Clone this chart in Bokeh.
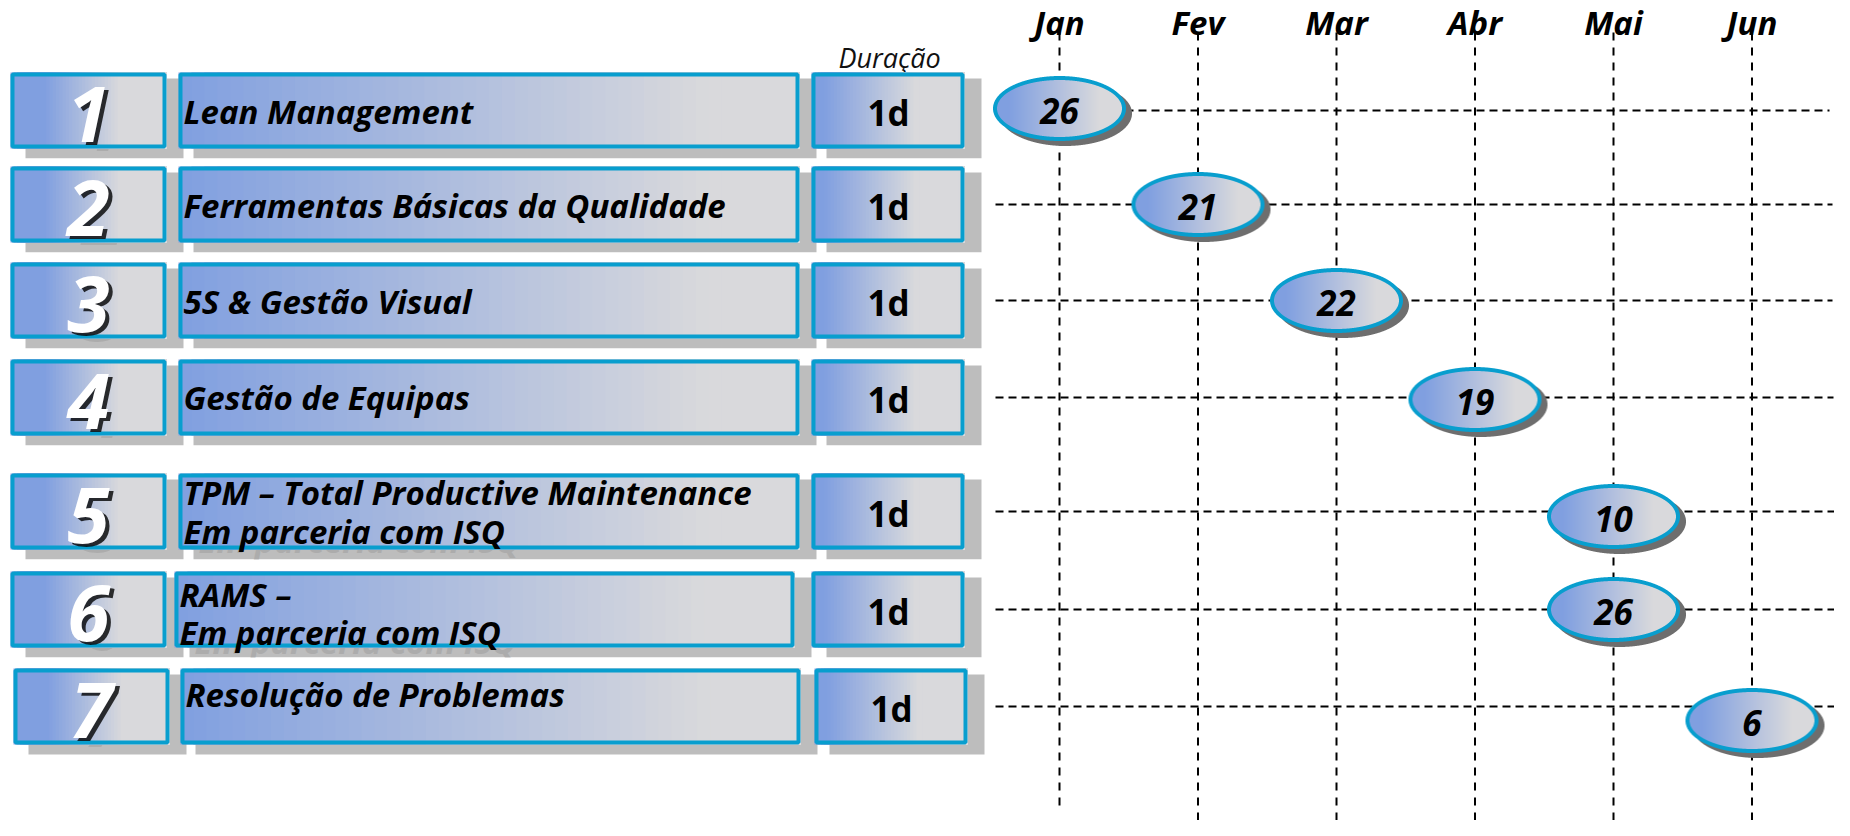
import numpy as np
from bokeh.plotting import figure
from bokeh.models import Range1d
from bokeh.core.properties import value
from bokeh.embed import file_html
from bokeh.resources import INLINE

# ---------------- data ----------------
course_numbers = ["1", "2", "3", "4", "5", "6", "7"]
course_titles = ["Lean Management", "Ferramentas Básicas da Qualidade", "5S & Gestão Visual",
                 "Gestão de Equipas", "TPM – Total Productive Maintenance", "RAMS –",
                 "Resolução de Problemas"]
course_subtitles = ["", "", "", "", "Em parceria com  ISQ", "Em parceria  com ISQ", ""]
course_durations = ["1d", "1d", "1d", "1d", "1d", "1d", "1d"]
months = ["Jan", "Fev", "Mar", "Abr", "Mai", "Jun"]
course_months = ["Jan", "Fev", "Mar", "Abr", "Mai", "Mai", "Jun"]
course_days = ["26", "21", "22", "19", "10", "26", "6"]
duration_header = "Duração"

# ---------------- layout / style ----------------
W, H, M = 1834, 820, 0
JAN_PX, MONTH_PX = 1059.0, 138.5
ROW_TOP = [72, 166, 262, 359, 473, 571, 668]
ROW_H = 76
row_c = [t + ROW_H / 2 for t in ROW_TOP]
ROW_DX = [0, 0, 0, 0, 0, 0, 3]
TITLE_DX0 = [0, 0, 0, 0, 0, -4, 2]
TITLE_DX1 = [0, 0, 0, 0, 0, -5, 1]
TITLE_MID1 = [1, 1, 1, 0, -19, -15, -12]
TITLE_MID2 = [0, 0, 0, 0, 20, 23, 0]
ELL_DY = [-2, 0, 0, 2, 5, 0, 14]
HLINE_END = [1829, 1832, 1832, 1833, 1838, 1838, 1846]
VLINE_END = [812, 820, 823, 826, 826, 832]

BLUE = np.array([128, 159, 224], dtype=float)
GREY = np.array([217, 217, 220], dtype=float)
BORDER = np.array([8, 158, 206], dtype=float)
BORDER_HEX = "#089ece"
SHADOW_HEX = "#bdbdbd"
GHOST_HEX = "#acacac"
FONT = value("Open Sans")


def grad_color(t, t0, t1):
    u = min(max((t - t0) / (t1 - t0), 0.0), 1.0)
    c = BLUE + (GREY - BLUE) * u
    return "#%02x%02x%02x" % tuple(int(round(v)) for v in c)


def ellipse_image(w=133, h=65, bw=4.0, sdx=6, sdy=5, ss=4):
    pad_x, pad_y = sdx + 3, sdy + 3
    IW, IH = int(w + 2 * pad_x), int(h + 2 * pad_y)
    xs = (np.arange(IW * ss) + 0.5) / ss
    ys = (np.arange(IH * ss) + 0.5) / ss
    X, Y = np.meshgrid(xs, ys)
    cx, cy = IW / 2, IH / 2
    a, b = w / 2, h / 2

    def inside(dx, dy, aa, bb):
        return ((X - cx - dx) / aa) ** 2 + ((Y - cy - dy) / bb) ** 2 <= 1.0

    rgb = np.zeros(X.shape + (3,))
    alpha = np.zeros(X.shape)
    sh = inside(sdx, sdy, a, b)
    rgb[sh] = (110, 110, 110)
    alpha[sh] = 1.0
    outer = inside(0, 0, a, b)
    rgb[outer] = BORDER
    alpha[outer] = 1.0
    inner = inside(0, 0, a - bw, b - bw)
    u = np.clip(((X - (cx - a)) / (2 * a) - 0.12) / (0.80 - 0.12), 0, 1)
    g = BLUE + (GREY - BLUE) * u[..., None]
    rgb[inner] = g[inner]
    asum = alpha.reshape(IH, ss, IW, ss).sum(axis=(1, 3))
    rgb_ds = (rgb * alpha[..., None]).reshape(IH, ss, IW, ss, 3).sum(axis=(1, 3)) / np.maximum(asum, 1e-9)[..., None]
    arr = np.zeros((IH, IW, 4), dtype=np.uint8)
    arr[..., :3] = np.clip(np.round(rgb_ds), 0, 255)
    arr[..., 3] = np.clip(np.round(asum / (ss * ss) * 255), 0, 255)
    img = arr.view(np.uint32).reshape(IH, IW)
    return img.copy(), IW, IH


# ---------------- figure ----------------
p = figure(width=W, height=H, x_range=Range1d(M, M + W), y_range=Range1d(M + H, M),
           min_border=0, x_axis_location=None, y_axis_location=None,
           toolbar_location=None, output_backend="svg", outline_line_color=None,
           background_fill_color="white", border_fill_color="white")
p.grid.visible = False
p.extra_x_ranges = {"months": Range1d((M - JAN_PX) / MONTH_PX, (M + W - JAN_PX) / MONTH_PX)}

month_idx = list(range(len(months)))
course_idx = [months.index(m) for m in course_months]

# dashed grid
p.segment(x0=month_idx, x1=month_idx, y0=[32] * len(months), y1=VLINE_END,
          x_range_name="months", line_color="black", line_width=2, line_dash="8 7")
p.segment(x0=[995] * 7, x1=HLINE_END, y0=row_c, y1=row_c,
          line_color="black", line_width=2, line_dash="8 5")

# month labels & header
p.text(x=month_idx, y=[22] * len(months), text=months, x_range_name="months",
       text_align="center", text_baseline="middle", text_font=FONT,
       text_font_size="33px", text_font_style="bold italic", text_color="black")
p.text(x=[889], y=[57], text=[duration_header], text_align="center",
       text_baseline="middle", text_font=FONT, text_font_size="27px",
       text_font_style="italic", text_color="#111111")

# boxes
boxes = []  # (x0, x1, top, bot, t0, t1)
for i in range(7):
    top, bot = ROW_TOP[i], ROW_TOP[i] + ROW_H
    dx = ROW_DX[i]
    boxes.append((10 + dx, 166 + dx, top, bot, 0.22, 0.70))
    boxes.append((178 + TITLE_DX0[i], 799 + TITLE_DX1[i], top, bot, 0.0, 0.85))
    boxes.append((811 + dx, 964 + dx, top, bot, 0.08, 0.68))

# shadows
p.quad(left=[b[0] + 15 for b in boxes], right=[b[1] + 17 for b in boxes],
       top=[b[2] + 6 for b in boxes], bottom=[b[3] + 10 for b in boxes],
       fill_color=SHADOW_HEX, line_color=None)

title_x = [178 + TITLE_DX0[i] + 5 for i in range(7)]
num_x = [88 + ROW_DX[i] for i in range(7)]
TFS = "33px"
NFS = "77px"
# shadow copies of texts (only peek out below boxes)
p.text(x=[x + 15 for x in title_x], y=[row_c[i] + TITLE_MID2[i] + 9 for i in range(7)],
       text=course_subtitles, text_font=FONT, text_font_size=TFS,
       text_font_style="bold italic", text_color=GHOST_HEX, text_baseline="middle")
p.text(x=[x + 15 for x in num_x], y=[c + 3 + 9 for c in row_c], text=course_numbers,
       text_align="center", text_font=FONT, text_font_size=NFS,
       text_font_style="bold italic", text_color=GHOST_HEX, text_baseline="middle")
# keep the ghost texts inside their shadow band
p.quad(left=[0] * 6, right=[990] * 6,
       top=[ROW_TOP[i] + ROW_H + 10 for i in range(6)],
       bottom=[ROW_TOP[i + 1] + 5 for i in range(6)],
       fill_color="white", line_color=None)

# gradient fills
sl, sr, st, sb, sc = [], [], [], [], []
N = 48
for (x0, x1, top, bot, t0, t1) in boxes:
    for k in range(N):
        sl.append(x0 + (x1 - x0) * k / N)
        sr.append(x1)
        st.append(top)
        sb.append(bot)
        sc.append(grad_color((k + 0.5) / N, t0, t1))
p.quad(left=sl, right=sr, top=st, bottom=sb, fill_color=sc, line_color=None)

# borders
p.quad(left=[b[0] + 2 for b in boxes], right=[b[1] - 2 for b in boxes],
       top=[b[2] + 2 for b in boxes], bottom=[b[3] - 2 for b in boxes],
       fill_color=None, line_color=BORDER_HEX, line_width=4)

# numerals (white with dark shadow)
p.text(x=num_x, y=[c + 3 for c in row_c], text=course_numbers, x_offset=4, y_offset=3,
       text_align="center", text_font=FONT, text_font_size=NFS,
       text_font_style="bold italic", text_color="black", text_alpha=0.8,
       text_baseline="middle")
p.text(x=num_x, y=[c + 3 for c in row_c], text=course_numbers,
       text_align="center", text_font=FONT, text_font_size=NFS,
       text_font_style="bold italic", text_color="white", text_baseline="middle")

# titles
p.text(x=title_x, y=[row_c[i] + TITLE_MID1[i] for i in range(7)], text=course_titles,
       text_font=FONT, text_font_size=TFS, text_font_style="bold italic",
       text_color="black", text_baseline="middle")
p.text(x=title_x, y=[row_c[i] + TITLE_MID2[i] for i in range(7)], text=course_subtitles,
       text_font=FONT, text_font_size=TFS, text_font_style="bold italic",
       text_color="black", text_baseline="middle")

# durations
p.text(x=[888 + ROW_DX[i] for i in range(7)], y=[c + 2 for c in row_c], text=course_durations,
       text_align="center", text_font=FONT, text_font_size="35px", text_font_style="bold",
       text_color="black", text_baseline="middle")

# ellipses (gradient image) on month scale
img, IW, IH = ellipse_image()
ell_y = [row_c[i] + ELL_DY[i] for i in range(7)]
p.image_rgba(image=[img] * 7, x=course_idx, y=ell_y, dw=[IW] * 7, dh=[IH] * 7,
             dw_units="screen", dh_units="screen", anchor="center", x_range_name="months")
p.text(x=course_idx, y=[y + 2 for y in ell_y], text=course_days, x_range_name="months",
       text_align="center", text_font=FONT, text_font_size="35px",
       text_font_style="bold italic", text_color="black", text_baseline="middle")

open("out.html", "w").write(file_html(p, INLINE))
